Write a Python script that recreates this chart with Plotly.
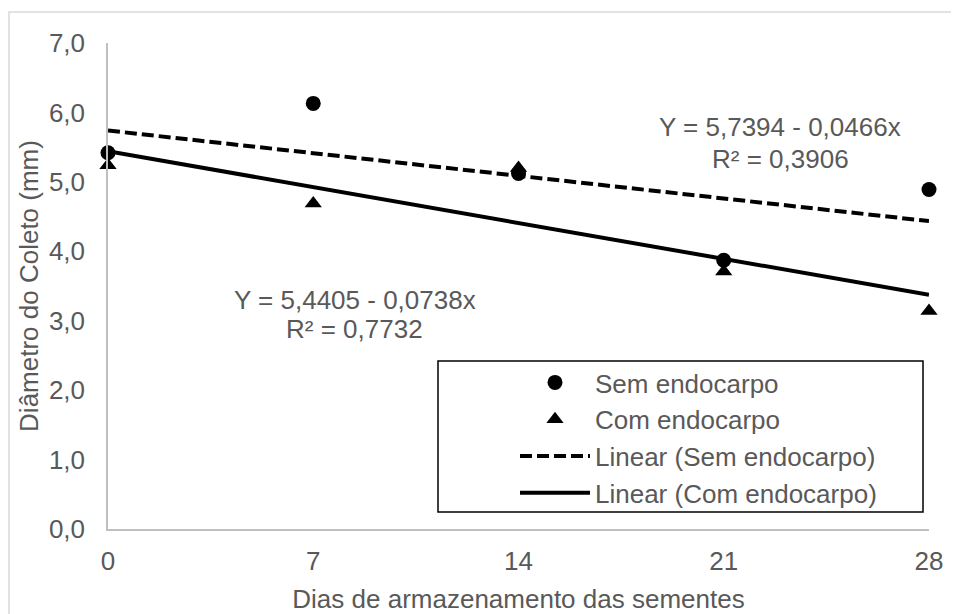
import plotly.graph_objects as go
import numpy as np

# Data
dias = [0, 7, 14, 21, 28]
sem_endocarpo = [5.42, 6.13, 5.12, 3.87, 4.89]
com_endocarpo = [5.24, 4.69, 5.20, 3.71, 3.14]

# Trend line coefficients shown on the chart
trend_names = ["Linear (Sem endocarpo)", "Linear (Com endocarpo)"]
intercepts = [5.7394, 5.4405]
slopes = [-0.0466, -0.0738]
r2_values = ["0,3906", "0,7732"]

y_ticks = [0, 1, 2, 3, 4, 5, 6, 7]
y_tick_labels = ["0,0", "1,0", "2,0", "3,0", "4,0", "5,0", "6,0", "7,0"]
x_ticks = [0, 7, 14, 21, 28]

FONT = "Liberation Sans, Arial, sans-serif"
GRAY = "#595959"
FS = 26

fig = go.Figure()

fig.add_trace(go.Scatter(
    x=dias, y=sem_endocarpo, mode="markers", name="Sem endocarpo",
    marker=dict(symbol="circle", size=15, color="black"),
    legendgroup="a"))
fig.add_trace(go.Scatter(
    x=dias, y=com_endocarpo, mode="markers", name="Com endocarpo",
    marker=dict(symbol="triangle-up", size=15, color="black"),
    legendgroup="b"))

tx = np.array([dias[0], dias[-1]], dtype=float)
dashes = ["12px,5px", "solid"]
widths = [4, 4]
for i in range(2):
    fig.add_trace(go.Scatter(
        x=tx, y=intercepts[i] + slopes[i] * tx, mode="lines", name=trend_names[i],
        line=dict(color="black", width=widths[i], dash=dashes[i]),
        legendgroup="c" + str(i)))

def fmt(v):
    return f"{v:.4f}".replace(".", ",")

# equation annotations
eq_pos = [(22.92, 5.79, 5.335), (8.42, 3.304, 2.88)]
for i in range(2):
    ax, ay1, ay2 = eq_pos[i]
    fig.add_annotation(x=ax, y=ay1, xref="x", yref="y", showarrow=False,
                       text=f"Y = {fmt(intercepts[i])} - {fmt(-slopes[i])}x",
                       font=dict(family=FONT, size=FS, color=GRAY))
    fig.add_annotation(x=ax, y=ay2, xref="x", yref="y", showarrow=False,
                       text=f"R² = {r2_values[i]}",
                       font=dict(family=FONT, size=FS, color=GRAY))

# outer chart border
fig.add_shape(type="rect", xref="paper", yref="paper",
              x0=-0.1206, x1=1.2, y0=-0.3, y1=1.0638,
              line=dict(color="#d9d9d9", width=1.5), fillcolor="rgba(0,0,0,0)")
# legend box
fig.add_shape(type="rect", xref="paper", yref="paper",
              x0=(438 - 108) / 821, x1=(923 - 108) / 821,
              y0=(529 - 512) / 486, y1=(529 - 361) / 486,
              line=dict(color="black", width=1.5), fillcolor="white", layer="above")

fig.update_layout(
    width=959, height=614,
    margin=dict(l=100, r=38, t=35, b=93),
    paper_bgcolor="white", plot_bgcolor="white",
    font=dict(family=FONT, size=FS, color=GRAY),
    showlegend=True,
    legend=dict(x=(515 - 108) / 821, y=(529 - 359) / 486, xanchor="left", yanchor="top",
                bgcolor="rgba(0,0,0,0)", borderwidth=0, itemwidth=70,
                tracegroupgap=0, font=dict(family=FONT, size=FS, color=GRAY)),
    xaxis=dict(range=[0, 28], tickvals=x_ticks, showgrid=False, zeroline=False,
               showline=True, linecolor="#bfbfbf", linewidth=1.5, ticks="",
               ticklabelstandoff=8, automargin=False,
               title=dict(text="Dias de armazenamento das sementes", standoff=15,
                          font=dict(family=FONT, size=FS, color=GRAY))),
    yaxis=dict(range=[0, 7], tickvals=y_ticks, ticktext=y_tick_labels, showgrid=False,
               zeroline=False, showline=True, linecolor="#bfbfbf", linewidth=1.5,
               ticks="", ticklabelstandoff=16, automargin=False,
               title=dict(text="Diâmetro do Coleto (mm)", standoff=3,
                          font=dict(family=FONT, size=FS, color=GRAY))),
)
fig.update_traces(cliponaxis=False)

fig.write_html("out.html")
